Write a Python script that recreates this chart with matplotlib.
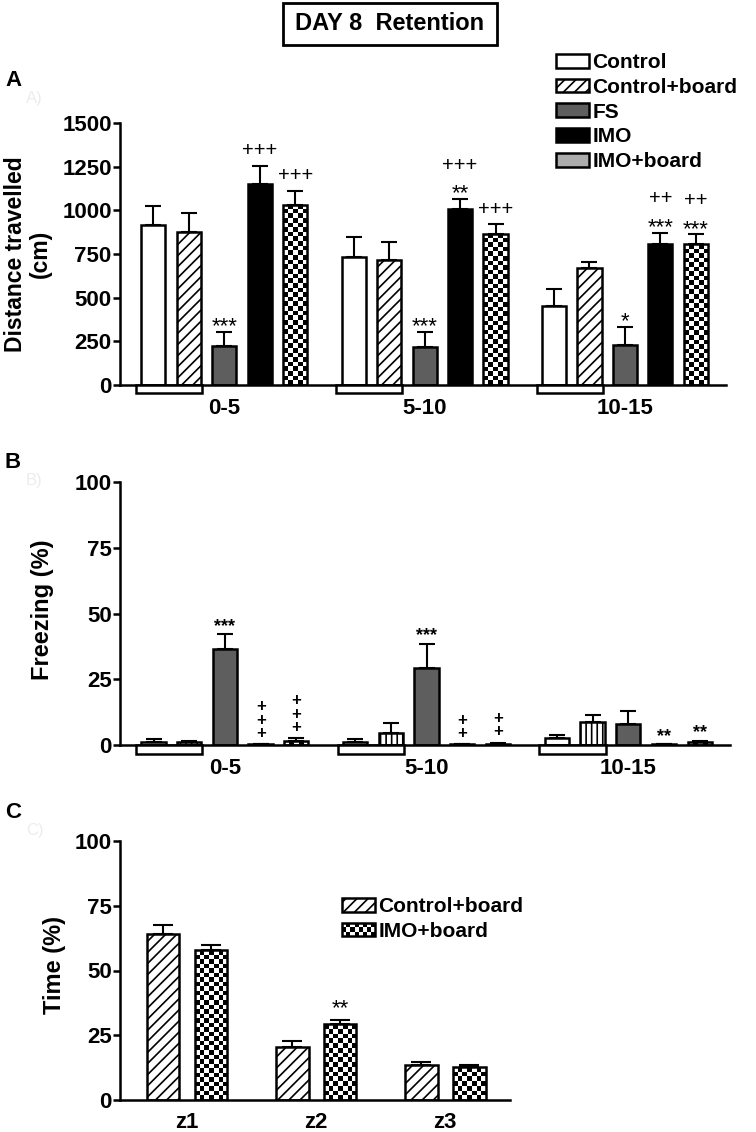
import numpy as np
import matplotlib.pyplot as plt
from matplotlib.patches import Rectangle
from matplotlib.legend_handler import HandlerBase

plt.rcParams['font.family'] = ['Liberation Sans', 'DejaVu Sans']
plt.rcParams['font.weight'] = 'bold'
plt.rcParams['hatch.linewidth'] = 1.2

# ---- data ----
series = ['Control', 'Control+board', 'FS', 'IMO', 'IMO+board']
bins = ['0-5', '5-10', '10-15']

# A) distance travelled (cm), rows = time bins, cols = series
dist_mean = [[917, 875, 224, 1152, 1032],
             [734, 717, 216, 1007, 866],
             [455, 669, 231, 806, 806]]
dist_err = [[105, 110, 78, 100, 80],
            [116, 99, 90, 57, 53],
            [95, 38, 103, 67, 56]]
dist_marks = [(0, 2, '***'), (0, 3, '+++'), (0, 4, '+++'),
              (1, 2, '***'), (1, 3, '+++\n**'), (1, 4, '+++'),
              (2, 2, '*'), (2, 3, '++\n***'), (2, 4, '++\n***')]

# B) freezing (%)
frz_mean = [[1.2, 1.1, 36.4, 0.2, 1.6],
            [1.3, 4.4, 29.1, 0.2, 0.5],
            [2.6, 8.6, 8.0, 0.2, 1.2]]
frz_err = [[1.1, 0.6, 5.7, 0, 0.9],
           [0.9, 3.8, 9.4, 0, 0.2],
           [1.3, 2.8, 5.0, 0, 0.4]]
frz_marks = [(0, 2, '***'), (0, 3, '+\n+\n+'), (0, 4, '+\n+\n+'),
             (1, 2, '***'), (1, 3, '+\n+'), (1, 4, '+\n+'),
             (2, 3, '**'), (2, 4, '**')]

# C) time in zone (%)
zones = ['z1', 'z2', 'z3']
zone_series = ['Control+board', 'IMO+board']
zone_ctrl = [64.1, 20.6, 13.4]
zone_ctrl_err = [3.5, 2.2, 1.4]
zone_imo = [57.8, 29.3, 12.7]
zone_imo_err = [2.1, 1.7, 0.7]
zone_marks = [(1, 1, '**')]

# ---- styles ----
face = {'Control': 'white', 'Control+board': 'white', 'FS': '#5e5e5e',
        'IMO': 'black', 'IMO+board': 'none'}
LW = 1.8
PX = 100 / 72.0   # pixels per point at dpi 100

# significance-mark styles: font sizes, gap above error bar (px), line gap (px)
markA = dict(fs_star=16, fs_plus=14.5, star_px=12.5, plus_px=17, gap_px=23, weight='normal')
markB = dict(fs_star=13, fs_plus=12, star_px=14, plus_px=13, gap_px=10.3, weight='bold')
markC = dict(fs_star=16, fs_plus=14.5, star_px=18, plus_px=17, gap_px=23, weight='normal')


class HandlerChecker(HandlerBase):
    def __init__(self, ncol=8, nrow=3, **kw):
        HandlerBase.__init__(self, **kw)
        self.ncol, self.nrow = ncol, nrow

    def create_artists(self, legend, orig_handle, xdescent, ydescent,
                       width, height, fontsize, trans):
        x0, y0 = -xdescent, -ydescent
        dw, dh = width / self.ncol, height / self.nrow
        arts = []
        for i in range(self.nrow):
            for j in range(self.ncol):
                if (i + j) % 2:
                    arts.append(Rectangle((x0 + j * dw, y0 + i * dh), dw, dh,
                                          fc='k', ec='none', transform=trans))
        arts.append(Rectangle((x0, y0), width, height, fc='none', ec='k',
                              lw=LW, transform=trans))
        return arts


def checker(ax, bars, sq=4.6):
    # checkerboard fill clipped to each bar
    for b in bars:
        bb = b.get_window_extent()
        nc = max(1, int(round(bb.width / sq)))
        nr = max(1, int(round(abs(bb.height) / sq)))
        arr = np.indices((nr, nc)).sum(axis=0) % 2
        x0, y0, w, h = b.get_x(), b.get_y(), b.get_width(), b.get_height()
        im = ax.imshow(arr, cmap='gray_r', vmin=0, vmax=1, extent=[x0, x0 + w, y0, y0 + h],
                       origin='lower', interpolation='nearest', aspect='auto', zorder=1.5)
        im.set_clip_path(b)


def style_axis(ax):
    for s in ['top', 'right']:
        ax.spines[s].set_visible(False)
    for s in ['left', 'bottom']:
        ax.spines[s].set_linewidth(LW)
    ax.tick_params(axis='y', direction='out', length=5, width=LW, pad=1, labelsize=16)
    ax.tick_params(axis='x', length=0, pad=9, labelsize=16)


def mark(ax, x, top, txt, st):
    lines = txt.split('\n')
    kinds = set(l[0] for l in lines)
    if len(kinds) == 1 and len(lines) > 1:
        # a column of identical symbols: one text, tight line spacing
        star = lines[0].startswith('*')
        fs = st['fs_star'] if star else st['fs_plus']
        em = fs * PX
        c = 0.575 if star else 0.35
        first = st['star_px'] if star else st['plus_px']
        dy = (first - (0.21 + c) * em) / PX
        ax.annotate(txt, (x, top), xytext=(0, dy), textcoords='offset points',
                    ha='center', va='bottom', fontsize=fs, fontweight=st['weight'],
                    linespacing=st['gap_px'] / (0.73 * em))
        return
    # mixed lines stacked upward from the error bar top, glyph centres placed in px
    first = None
    for k, line in enumerate(lines[::-1]):
        star = line.startswith('*')
        fs = st['fs_star'] if star else st['fs_plus']
        c = 0.575 if star else 0.35          # glyph centre above baseline (em)
        if first is None:
            first = st['star_px'] if star else st['plus_px']
        centre = first + k * st['gap_px']
        dy = (centre - c * fs * PX) / PX
        ax.annotate(line, (x, top), xytext=(0, dy), textcoords='offset points',
                    ha='center', va='baseline', fontsize=fs, fontweight=st['weight'])


fig = plt.figure(figsize=(7.56, 11.32), dpi=100)
W, H = 756, 1132

gstep = 5.65
bw = 0.68


def grouped(ax, means, errs, hatches, ylim, yticks, marks, mst, box_h):
    means = np.array(means)
    errs = np.array(errs)
    ax.set_xlim(-2.94, 14.15)
    ax.set_ylim(*ylim)
    check_bars = []
    for i, s in enumerate(series):
        x = np.arange(len(bins)) * gstep + i - 2
        bars = ax.bar(x, means[:, i], bw, facecolor=face[s], edgecolor='k',
                      linewidth=LW, hatch=hatches[i], zorder=2)
        ax.errorbar(x, means[:, i], yerr=[np.zeros(len(bins)), errs[:, i]], fmt='none',
                    ecolor='k', elinewidth=1.5, capsize=5.5, capthick=1.5, zorder=1)
        if s == 'IMO+board':
            check_bars += list(bars)
    checker(ax, check_bars)
    ax.set_xlim(-2.94, 14.15)
    ax.set_ylim(*ylim)
    ax.set_yticks(yticks)
    ax.set_xticks(np.arange(len(bins)) * gstep)
    ax.set_xticklabels(bins)
    style_axis(ax)
    # the little white box under each group
    for g in range(len(bins)):
        ax.add_patch(Rectangle((g * gstep - 2.49, -box_h), 1.86, box_h,
                               transform=ax.get_xaxis_transform(), fc='white', ec='k',
                               lw=LW, clip_on=False, zorder=3))
    for g, i, t in marks:
        mark(ax, g * gstep + i - 2, means[g, i] + errs[g, i], t, mst)


# ---- panel A ----
axA = fig.add_axes([120 / W, 1 - 385 / H, 606 / W, 262 / H])
grouped(axA, dist_mean, dist_err, [None, '///', None, None, None], (0, 1500),
        [0, 250, 500, 750, 1000, 1250, 1500], dist_marks, markA, 0.031)

# ---- panel B ----
axB = fig.add_axes([120 / W, 1 - 745 / H, 610 / W, 263 / H])
grouped(axB, frz_mean, frz_err, [None, '|||', None, None, None], (0, 100),
        [0, 25, 50, 75, 100], frz_marks, markB, 0.034)

# ---- panel C ----
axC = fig.add_axes([120 / W, 1 - 1100 / H, 390 / W, 259 / H])
zstep = 2.69
xz = np.arange(len(zones)) * zstep
axC.bar(xz - 0.5, zone_ctrl, bw, facecolor='white', edgecolor='k', lw=LW, hatch='///', zorder=2)
axC.errorbar(xz - 0.5, zone_ctrl, yerr=[np.zeros(3), zone_ctrl_err], fmt='none', ecolor='k',
             elinewidth=1.5, capsize=7, capthick=1.5, zorder=1)
cb = axC.bar(xz + 0.5, zone_imo, bw, facecolor='none', edgecolor='k', lw=LW, zorder=2)
axC.errorbar(xz + 0.5, zone_imo, yerr=[np.zeros(3), zone_imo_err], fmt='none', ecolor='k',
             elinewidth=1.5, capsize=7, capthick=1.5, zorder=1)
axC.set_xlim(-1.40, 6.73)
axC.set_ylim(0, 100)
checker(axC, cb)
axC.set_xlim(-1.40, 6.73)
axC.set_ylim(0, 100)
axC.set_yticks([0, 25, 50, 75, 100])
axC.set_xticks(xz)
axC.set_xticklabels(zones)
style_axis(axC)
zmeans = np.array([zone_ctrl, zone_imo]).T
zerrs = np.array([zone_ctrl_err, zone_imo_err]).T
for g, i, t in zone_marks:
    mark(axC, g * zstep + i - 0.5, zmeans[g, i] + zerrs[g, i], t, markC)

# ---- legends ----
hA = [Rectangle((0, 0), 1, 1, fc='white', ec='k', lw=LW),
      Rectangle((0, 0), 1, 1, fc='white', ec='k', lw=LW, hatch='///'),
      Rectangle((0, 0), 1, 1, fc='#5e5e5e', ec='k', lw=LW),
      Rectangle((0, 0), 1, 1, fc='black', ec='k', lw=LW),
      Rectangle((0, 0), 1, 1, fc='#acacac', ec='k', lw=LW)]
fig.legend(hA, series, loc='upper left', bbox_to_anchor=(556 / W, 1 - 53 / H),
           frameon=False, fontsize=15, handlelength=1.6, handleheight=0.65,
           handletextpad=0.15, labelspacing=0.28, borderpad=0, borderaxespad=0)

hC = [Rectangle((0, 0), 1, 1, fc='white', ec='k', lw=LW, hatch='///'),
      Rectangle((0, 0), 1, 1, fc='white', ec='k', lw=LW)]
fig.legend(hC, zone_series, loc='upper left', bbox_to_anchor=(342 / W, 1 - 897 / H),
           frameon=False, fontsize=15, handlelength=1.6, handleheight=0.65,
           handletextpad=0.15, labelspacing=0.28, borderpad=0, borderaxespad=0,
           handler_map={hC[1]: HandlerChecker()})

# ---- texts ----
fig.patches.append(Rectangle((283 / W, 1 - 45 / H), 214 / W, 42 / H, transform=fig.transFigure,
                             fc='white', ec='k', lw=2))
fig.text(390 / W, 1 - 24 / H, 'DAY 8  Retention', ha='center', va='center', fontsize=17)

fig.text(28 / W, 1 - 254 / H, 'Distance travelled\n(cm)', rotation=90, ha='center',
         va='center', fontsize=16.5, linespacing=1.1)
fig.text(42 / W, 1 - 610 / H, 'Freezing (%)', rotation=90, ha='center', va='center', fontsize=17)
fig.text(54 / W, 1 - 965 / H, 'Time (%)', rotation=90, ha='center', va='center', fontsize=17)

for lab, y in [('A', 80), ('B', 463), ('C', 813)]:
    fig.text(5 / W, 1 - y / H, lab, ha='left', va='center', fontsize=16)
    fig.text(26 / W, 1 - (y + 18) / H, lab + ')', ha='left', va='center', fontsize=12,
             color='#ececec', fontweight='normal')

fig.savefig('out.png', dpi=100, facecolor='white')
